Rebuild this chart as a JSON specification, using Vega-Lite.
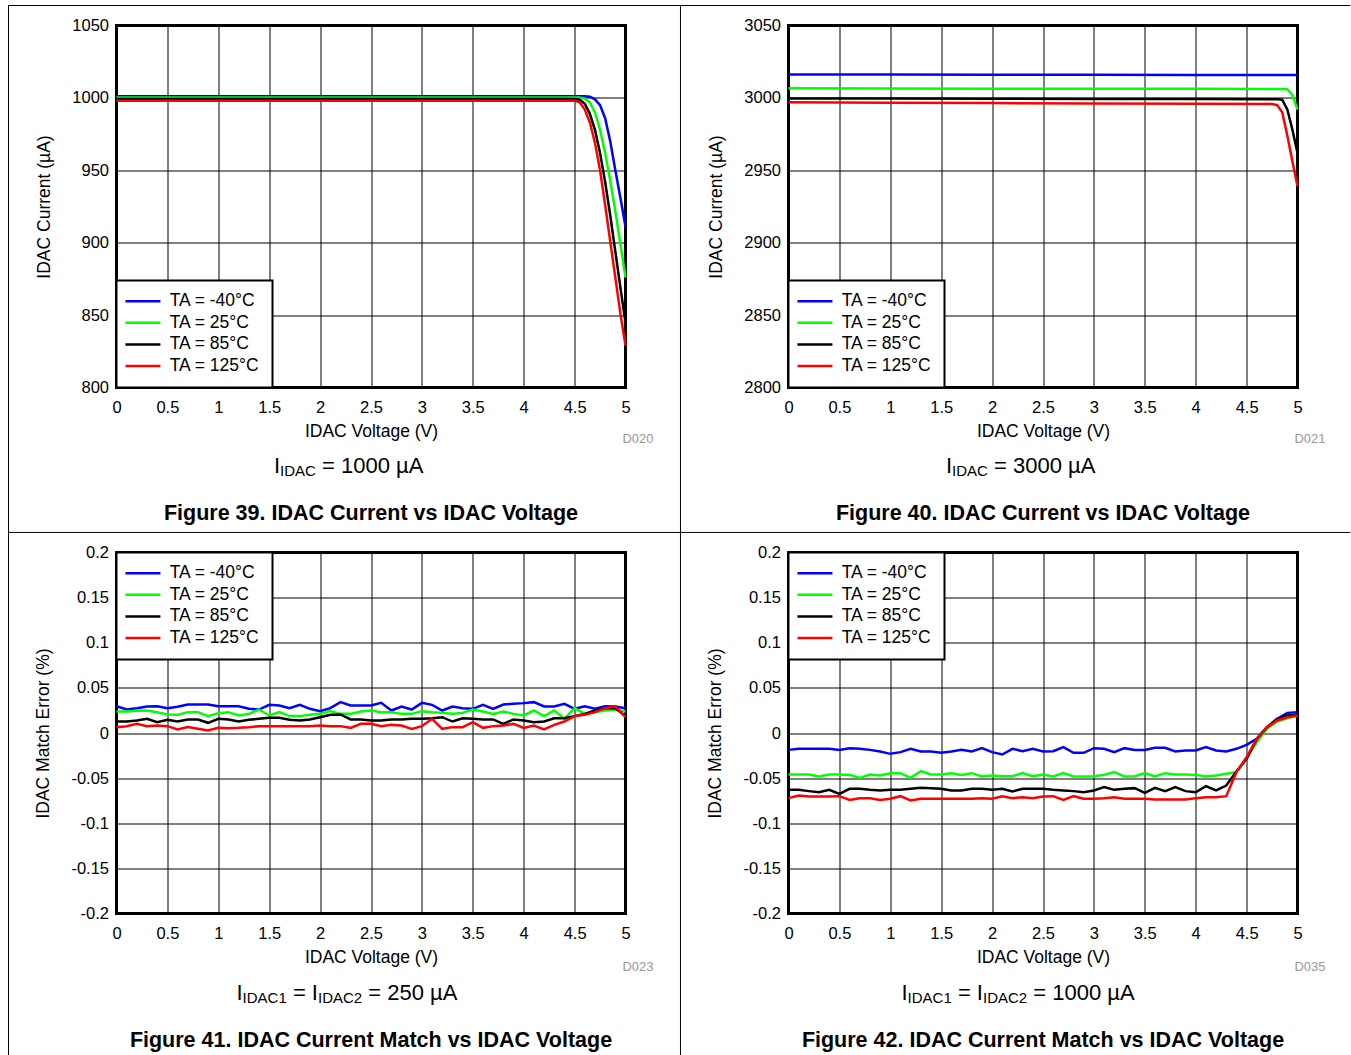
{
"$schema": "https://vega.github.io/schema/vega-lite/v6.json",
"background": "white",
"padding": {"left": 5.5, "top": 3.5, "right": 0, "bottom": 0},
"config": {
 "font": "Liberation Sans",
 "view": {"stroke": "#000", "strokeWidth": 3},
 "axis": {"grid": true, "gridColor": "#000", "gridWidth": 1, "gridOpacity": 1, "domain": false, "ticks": false, "labelOverlap": false, "labelFont": "Liberation Sans", "labelFontSize": 16.5, "labelColor": "#000", "titleFont": "Liberation Sans", "titleFontSize": 17.5, "titleFontWeight": "normal", "titleColor": "#000"},
 "axisX": {"labelPadding": 12, "titlePadding": 6, "labelFlush": false},
 "axisY": {"labelPadding": 8, "titlePadding": 18},
 "legend": {"offset": 0, "fillColor": "#fff", "strokeColor": "#000", "padding": 12, "symbolType": "M-3,0H3", "symbolSize": 136, "symbolOffset": 5.7, "symbolStrokeWidth": 2.5, "labelFontSize": 17.5, "labelFont": "Liberation Sans", "labelColor": "#000", "labelOffset": 18, "rowPadding": 2.6},
 "text": {"font": "Liberation Sans", "color": "#000"}
},
"datasets": {
 "p1": [
  {"v":0,"t":"-40°C","y":1001.2},{"v":1,"t":"-40°C","y":1001.2},{"v":2,"t":"-40°C","y":1001.2},{"v":3,"t":"-40°C","y":1001.2},{"v":4,"t":"-40°C","y":1001.2},{"v":4.5,"t":"-40°C","y":1001.2},{"v":4.6,"t":"-40°C","y":1001.1},{"v":4.65,"t":"-40°C","y":1000.8},{"v":4.7,"t":"-40°C","y":999},{"v":4.75,"t":"-40°C","y":995},{"v":4.8,"t":"-40°C","y":986},{"v":4.85,"t":"-40°C","y":970},{"v":4.9,"t":"-40°C","y":950},{"v":4.95,"t":"-40°C","y":931},{"v":5,"t":"-40°C","y":911},
  {"v":0,"t":"25°C","y":1000.3},{"v":1,"t":"25°C","y":1000.3},{"v":2,"t":"25°C","y":1000.3},{"v":3,"t":"25°C","y":1000.3},{"v":4,"t":"25°C","y":1000.3},{"v":4.5,"t":"25°C","y":1000.3},{"v":4.55,"t":"25°C","y":1000.2},{"v":4.6,"t":"25°C","y":999.5},{"v":4.65,"t":"25°C","y":997},{"v":4.7,"t":"25°C","y":990},{"v":4.75,"t":"25°C","y":978},{"v":4.8,"t":"25°C","y":962},{"v":4.85,"t":"25°C","y":943},{"v":4.9,"t":"25°C","y":922},{"v":4.95,"t":"25°C","y":899},{"v":5,"t":"25°C","y":876},
  {"v":0,"t":"85°C","y":999.3},{"v":1,"t":"85°C","y":999.3},{"v":2,"t":"85°C","y":999.3},{"v":3,"t":"85°C","y":999.3},{"v":4,"t":"85°C","y":999.3},{"v":4.5,"t":"85°C","y":999.3},{"v":4.55,"t":"85°C","y":998.8},{"v":4.6,"t":"85°C","y":996},{"v":4.65,"t":"85°C","y":989},{"v":4.7,"t":"85°C","y":978},{"v":4.75,"t":"85°C","y":962},{"v":4.8,"t":"85°C","y":942},{"v":4.85,"t":"85°C","y":919},{"v":4.9,"t":"85°C","y":894},{"v":4.95,"t":"85°C","y":869},{"v":5,"t":"85°C","y":845},
  {"v":0,"t":"125°C","y":998.1},{"v":1,"t":"125°C","y":998.1},{"v":2,"t":"125°C","y":998.1},{"v":3,"t":"125°C","y":998.1},{"v":4,"t":"125°C","y":998.1},{"v":4.5,"t":"125°C","y":998.1},{"v":4.55,"t":"125°C","y":997},{"v":4.6,"t":"125°C","y":992},{"v":4.65,"t":"125°C","y":983},{"v":4.7,"t":"125°C","y":969},{"v":4.75,"t":"125°C","y":950},{"v":4.8,"t":"125°C","y":926},{"v":4.85,"t":"125°C","y":901},{"v":4.9,"t":"125°C","y":876},{"v":4.95,"t":"125°C","y":851},{"v":5,"t":"125°C","y":829}
 ],
 "p2": [
  {"v":0,"t":"-40°C","y":3016.2},{"v":1,"t":"-40°C","y":3016.1},{"v":2,"t":"-40°C","y":3016},{"v":3,"t":"-40°C","y":3016},{"v":4,"t":"-40°C","y":3015.9},{"v":5,"t":"-40°C","y":3015.9},
  {"v":0,"t":"25°C","y":3006.6},{"v":1,"t":"25°C","y":3006.5},{"v":2,"t":"25°C","y":3006.4},{"v":3,"t":"25°C","y":3006.3},{"v":4,"t":"25°C","y":3006.3},{"v":4.85,"t":"25°C","y":3006.2},{"v":4.9,"t":"25°C","y":3006},{"v":4.95,"t":"25°C","y":3002},{"v":5,"t":"25°C","y":2992},
  {"v":0,"t":"85°C","y":2999.6},{"v":1,"t":"85°C","y":2999.5},{"v":2,"t":"85°C","y":2999.4},{"v":3,"t":"85°C","y":2999.3},{"v":4,"t":"85°C","y":2999.2},{"v":4.8,"t":"85°C","y":2999.1},{"v":4.85,"t":"85°C","y":2998.8},{"v":4.9,"t":"85°C","y":2992},{"v":4.95,"t":"85°C","y":2978},{"v":5,"t":"85°C","y":2962},
  {"v":0,"t":"125°C","y":2997},{"v":1,"t":"125°C","y":2996.7},{"v":2,"t":"125°C","y":2996.4},{"v":3,"t":"125°C","y":2996.2},{"v":4,"t":"125°C","y":2996},{"v":4.75,"t":"125°C","y":2995.8},{"v":4.8,"t":"125°C","y":2995},{"v":4.85,"t":"125°C","y":2990},{"v":4.9,"t":"125°C","y":2974},{"v":4.95,"t":"125°C","y":2956},{"v":5,"t":"125°C","y":2939}
 ],
 "p3": [
  {"v":0,"t":"-40°C","y":0.0297},{"v":0.1,"t":"-40°C","y":0.026},{"v":0.2,"t":"-40°C","y":0.0275},{"v":0.3,"t":"-40°C","y":0.0294},{"v":0.4,"t":"-40°C","y":0.0297},{"v":0.5,"t":"-40°C","y":0.0275},{"v":0.6,"t":"-40°C","y":0.029},{"v":0.7,"t":"-40°C","y":0.0316},{"v":0.8,"t":"-40°C","y":0.0316},{"v":0.9,"t":"-40°C","y":0.0316},{"v":1,"t":"-40°C","y":0.0297},{"v":1.1,"t":"-40°C","y":0.0297},{"v":1.2,"t":"-40°C","y":0.0297},{"v":1.3,"t":"-40°C","y":0.0268},{"v":1.4,"t":"-40°C","y":0.026},{"v":1.5,"t":"-40°C","y":0.0312},{"v":1.6,"t":"-40°C","y":0.0305},{"v":1.7,"t":"-40°C","y":0.0275},{"v":1.8,"t":"-40°C","y":0.0312},{"v":1.9,"t":"-40°C","y":0.0268},{"v":2,"t":"-40°C","y":0.0242},{"v":2.1,"t":"-40°C","y":0.0275},{"v":2.2,"t":"-40°C","y":0.0342},{"v":2.3,"t":"-40°C","y":0.0305},{"v":2.4,"t":"-40°C","y":0.0305},{"v":2.5,"t":"-40°C","y":0.0305},{"v":2.6,"t":"-40°C","y":0.0334},{"v":2.7,"t":"-40°C","y":0.0249},{"v":2.8,"t":"-40°C","y":0.0294},{"v":2.9,"t":"-40°C","y":0.026},{"v":3,"t":"-40°C","y":0.0334},{"v":3.1,"t":"-40°C","y":0.0312},{"v":3.2,"t":"-40°C","y":0.0249},{"v":3.3,"t":"-40°C","y":0.0294},{"v":3.4,"t":"-40°C","y":0.0275},{"v":3.5,"t":"-40°C","y":0.0268},{"v":3.6,"t":"-40°C","y":0.0312},{"v":3.7,"t":"-40°C","y":0.0268},{"v":3.8,"t":"-40°C","y":0.0316},{"v":3.9,"t":"-40°C","y":0.0323},{"v":4,"t":"-40°C","y":0.0331},{"v":4.1,"t":"-40°C","y":0.0342},{"v":4.2,"t":"-40°C","y":0.0294},{"v":4.3,"t":"-40°C","y":0.0294},{"v":4.4,"t":"-40°C","y":0.0323},{"v":4.5,"t":"-40°C","y":0.0268},{"v":4.6,"t":"-40°C","y":0.0297},{"v":4.7,"t":"-40°C","y":0.0268},{"v":4.8,"t":"-40°C","y":0.0297},{"v":4.9,"t":"-40°C","y":0.0294},{"v":5,"t":"-40°C","y":0.0275},
  {"v":0,"t":"25°C","y":0.0238},{"v":0.1,"t":"25°C","y":0.0238},{"v":0.2,"t":"25°C","y":0.0246},{"v":0.3,"t":"25°C","y":0.0249},{"v":0.4,"t":"25°C","y":0.0231},{"v":0.5,"t":"25°C","y":0.0205},{"v":0.6,"t":"25°C","y":0.0201},{"v":0.7,"t":"25°C","y":0.0231},{"v":0.8,"t":"25°C","y":0.0231},{"v":0.9,"t":"25°C","y":0.0187},{"v":1,"t":"25°C","y":0.022},{"v":1.1,"t":"25°C","y":0.0231},{"v":1.2,"t":"25°C","y":0.0194},{"v":1.3,"t":"25°C","y":0.0212},{"v":1.4,"t":"25°C","y":0.026},{"v":1.5,"t":"25°C","y":0.0194},{"v":1.6,"t":"25°C","y":0.0231},{"v":1.7,"t":"25°C","y":0.0187},{"v":1.8,"t":"25°C","y":0.0187},{"v":1.9,"t":"25°C","y":0.0201},{"v":2,"t":"25°C","y":0.0212},{"v":2.1,"t":"25°C","y":0.0242},{"v":2.2,"t":"25°C","y":0.0212},{"v":2.3,"t":"25°C","y":0.0212},{"v":2.4,"t":"25°C","y":0.0238},{"v":2.5,"t":"25°C","y":0.0249},{"v":2.6,"t":"25°C","y":0.0231},{"v":2.7,"t":"25°C","y":0.0231},{"v":2.8,"t":"25°C","y":0.0212},{"v":2.9,"t":"25°C","y":0.0212},{"v":3,"t":"25°C","y":0.0242},{"v":3.1,"t":"25°C","y":0.0231},{"v":3.2,"t":"25°C","y":0.0223},{"v":3.3,"t":"25°C","y":0.0212},{"v":3.4,"t":"25°C","y":0.0223},{"v":3.5,"t":"25°C","y":0.026},{"v":3.6,"t":"25°C","y":0.0238},{"v":3.7,"t":"25°C","y":0.0212},{"v":3.8,"t":"25°C","y":0.0238},{"v":3.9,"t":"25°C","y":0.0212},{"v":4,"t":"25°C","y":0.0194},{"v":4.1,"t":"25°C","y":0.0249},{"v":4.2,"t":"25°C","y":0.0187},{"v":4.3,"t":"25°C","y":0.0249},{"v":4.4,"t":"25°C","y":0.0157},{"v":4.5,"t":"25°C","y":0.0275},{"v":4.6,"t":"25°C","y":0.0212},{"v":4.7,"t":"25°C","y":0.0231},{"v":4.8,"t":"25°C","y":0.0249},{"v":4.9,"t":"25°C","y":0.026},{"v":5,"t":"25°C","y":0.0238},
  {"v":0,"t":"85°C","y":0.0127},{"v":0.1,"t":"85°C","y":0.0127},{"v":0.2,"t":"85°C","y":0.0139},{"v":0.3,"t":"85°C","y":0.0157},{"v":0.4,"t":"85°C","y":0.012},{"v":0.5,"t":"85°C","y":0.0146},{"v":0.6,"t":"85°C","y":0.0127},{"v":0.7,"t":"85°C","y":0.015},{"v":0.8,"t":"85°C","y":0.015},{"v":0.9,"t":"85°C","y":0.0113},{"v":1,"t":"85°C","y":0.0157},{"v":1.1,"t":"85°C","y":0.015},{"v":1.2,"t":"85°C","y":0.0127},{"v":1.3,"t":"85°C","y":0.0146},{"v":1.4,"t":"85°C","y":0.0157},{"v":1.5,"t":"85°C","y":0.0168},{"v":1.6,"t":"85°C","y":0.0168},{"v":1.7,"t":"85°C","y":0.0146},{"v":1.8,"t":"85°C","y":0.0139},{"v":1.9,"t":"85°C","y":0.015},{"v":2,"t":"85°C","y":0.0175},{"v":2.1,"t":"85°C","y":0.0201},{"v":2.2,"t":"85°C","y":0.0205},{"v":2.3,"t":"85°C","y":0.015},{"v":2.4,"t":"85°C","y":0.015},{"v":2.5,"t":"85°C","y":0.0139},{"v":2.6,"t":"85°C","y":0.0139},{"v":2.7,"t":"85°C","y":0.015},{"v":2.8,"t":"85°C","y":0.015},{"v":2.9,"t":"85°C","y":0.0157},{"v":3,"t":"85°C","y":0.0157},{"v":3.1,"t":"85°C","y":0.0164},{"v":3.2,"t":"85°C","y":0.0175},{"v":3.3,"t":"85°C","y":0.0127},{"v":3.4,"t":"85°C","y":0.0164},{"v":3.5,"t":"85°C","y":0.0157},{"v":3.6,"t":"85°C","y":0.015},{"v":3.7,"t":"85°C","y":0.015},{"v":3.8,"t":"85°C","y":0.0102},{"v":3.9,"t":"85°C","y":0.015},{"v":4,"t":"85°C","y":0.0139},{"v":4.1,"t":"85°C","y":0.012},{"v":4.2,"t":"85°C","y":0.0127},{"v":4.3,"t":"85°C","y":0.0164},{"v":4.4,"t":"85°C","y":0.0164},{"v":4.5,"t":"85°C","y":0.0187},{"v":4.6,"t":"85°C","y":0.0212},{"v":4.7,"t":"85°C","y":0.0249},{"v":4.8,"t":"85°C","y":0.0275},{"v":4.9,"t":"85°C","y":0.0275},{"v":5,"t":"85°C","y":0.0187},
  {"v":0,"t":"125°C","y":0.0065},{"v":0.1,"t":"125°C","y":0.0076},{"v":0.2,"t":"125°C","y":0.0102},{"v":0.3,"t":"125°C","y":0.0076},{"v":0.4,"t":"125°C","y":0.0083},{"v":0.5,"t":"125°C","y":0.0076},{"v":0.6,"t":"125°C","y":0.0039},{"v":0.7,"t":"125°C","y":0.0065},{"v":0.8,"t":"125°C","y":0.0046},{"v":0.9,"t":"125°C","y":0.0028},{"v":1,"t":"125°C","y":0.0057},{"v":1.1,"t":"125°C","y":0.0054},{"v":1.2,"t":"125°C","y":0.0057},{"v":1.3,"t":"125°C","y":0.0065},{"v":1.4,"t":"125°C","y":0.0076},{"v":1.5,"t":"125°C","y":0.0076},{"v":1.6,"t":"125°C","y":0.0076},{"v":1.7,"t":"125°C","y":0.0076},{"v":1.8,"t":"125°C","y":0.0076},{"v":1.9,"t":"125°C","y":0.0076},{"v":2,"t":"125°C","y":0.0083},{"v":2.1,"t":"125°C","y":0.0076},{"v":2.2,"t":"125°C","y":0.0076},{"v":2.3,"t":"125°C","y":0.0057},{"v":2.4,"t":"125°C","y":0.0102},{"v":2.5,"t":"125°C","y":0.0102},{"v":2.6,"t":"125°C","y":0.0076},{"v":2.7,"t":"125°C","y":0.009},{"v":2.8,"t":"125°C","y":0.0083},{"v":2.9,"t":"125°C","y":0.0046},{"v":3,"t":"125°C","y":0.0076},{"v":3.1,"t":"125°C","y":0.0157},{"v":3.2,"t":"125°C","y":0.0046},{"v":3.3,"t":"125°C","y":0.0065},{"v":3.4,"t":"125°C","y":0.0065},{"v":3.5,"t":"125°C","y":0.012},{"v":3.6,"t":"125°C","y":0.0057},{"v":3.7,"t":"125°C","y":0.0076},{"v":3.8,"t":"125°C","y":0.0083},{"v":3.9,"t":"125°C","y":0.0102},{"v":4,"t":"125°C","y":0.0057},{"v":4.1,"t":"125°C","y":0.0083},{"v":4.2,"t":"125°C","y":0.0039},{"v":4.3,"t":"125°C","y":0.009},{"v":4.4,"t":"125°C","y":0.0127},{"v":4.5,"t":"125°C","y":0.0187},{"v":4.6,"t":"125°C","y":0.0201},{"v":4.7,"t":"125°C","y":0.0231},{"v":4.8,"t":"125°C","y":0.0275},{"v":4.9,"t":"125°C","y":0.0297},{"v":5,"t":"125°C","y":0.0175}
 ],
 "p4": [
  {"v":0,"t":"-40°C","y":-0.0187},{"v":0.1,"t":"-40°C","y":-0.0175},{"v":0.2,"t":"-40°C","y":-0.0175},{"v":0.3,"t":"-40°C","y":-0.0175},{"v":0.4,"t":"-40°C","y":-0.0175},{"v":0.5,"t":"-40°C","y":-0.0187},{"v":0.6,"t":"-40°C","y":-0.0168},{"v":0.7,"t":"-40°C","y":-0.0175},{"v":0.8,"t":"-40°C","y":-0.0187},{"v":0.9,"t":"-40°C","y":-0.0205},{"v":1,"t":"-40°C","y":-0.0231},{"v":1.1,"t":"-40°C","y":-0.0212},{"v":1.2,"t":"-40°C","y":-0.0175},{"v":1.3,"t":"-40°C","y":-0.0205},{"v":1.4,"t":"-40°C","y":-0.0205},{"v":1.5,"t":"-40°C","y":-0.022},{"v":1.6,"t":"-40°C","y":-0.0205},{"v":1.7,"t":"-40°C","y":-0.0187},{"v":1.8,"t":"-40°C","y":-0.0205},{"v":1.9,"t":"-40°C","y":-0.0168},{"v":2,"t":"-40°C","y":-0.0212},{"v":2.1,"t":"-40°C","y":-0.0238},{"v":2.2,"t":"-40°C","y":-0.0175},{"v":2.3,"t":"-40°C","y":-0.0201},{"v":2.4,"t":"-40°C","y":-0.0175},{"v":2.5,"t":"-40°C","y":-0.0205},{"v":2.6,"t":"-40°C","y":-0.0201},{"v":2.7,"t":"-40°C","y":-0.0157},{"v":2.8,"t":"-40°C","y":-0.022},{"v":2.9,"t":"-40°C","y":-0.022},{"v":3,"t":"-40°C","y":-0.0168},{"v":3.1,"t":"-40°C","y":-0.0175},{"v":3.2,"t":"-40°C","y":-0.0212},{"v":3.3,"t":"-40°C","y":-0.0168},{"v":3.4,"t":"-40°C","y":-0.0187},{"v":3.5,"t":"-40°C","y":-0.0187},{"v":3.6,"t":"-40°C","y":-0.0164},{"v":3.7,"t":"-40°C","y":-0.0164},{"v":3.8,"t":"-40°C","y":-0.0205},{"v":3.9,"t":"-40°C","y":-0.0194},{"v":4,"t":"-40°C","y":-0.0194},{"v":4.1,"t":"-40°C","y":-0.0157},{"v":4.2,"t":"-40°C","y":-0.0194},{"v":4.3,"t":"-40°C","y":-0.0205},{"v":4.4,"t":"-40°C","y":-0.0175},{"v":4.5,"t":"-40°C","y":-0.0131},{"v":4.6,"t":"-40°C","y":-0.0065},{"v":4.7,"t":"-40°C","y":0.0065},{"v":4.8,"t":"-40°C","y":0.0157},{"v":4.9,"t":"-40°C","y":0.0223},{"v":5,"t":"-40°C","y":0.0231},
  {"v":0,"t":"25°C","y":-0.046},{"v":0.1,"t":"25°C","y":-0.046},{"v":0.2,"t":"25°C","y":-0.046},{"v":0.3,"t":"25°C","y":-0.0482},{"v":0.4,"t":"25°C","y":-0.046},{"v":0.5,"t":"25°C","y":-0.046},{"v":0.6,"t":"25°C","y":-0.0464},{"v":0.7,"t":"25°C","y":-0.0497},{"v":0.8,"t":"25°C","y":-0.046},{"v":0.9,"t":"25°C","y":-0.0471},{"v":1,"t":"25°C","y":-0.0445},{"v":1.1,"t":"25°C","y":-0.0445},{"v":1.2,"t":"25°C","y":-0.0497},{"v":1.3,"t":"25°C","y":-0.0423},{"v":1.4,"t":"25°C","y":-0.046},{"v":1.5,"t":"25°C","y":-0.046},{"v":1.6,"t":"25°C","y":-0.0445},{"v":1.7,"t":"25°C","y":-0.0464},{"v":1.8,"t":"25°C","y":-0.0445},{"v":1.9,"t":"25°C","y":-0.0482},{"v":2,"t":"25°C","y":-0.0471},{"v":2.1,"t":"25°C","y":-0.0478},{"v":2.2,"t":"25°C","y":-0.0478},{"v":2.3,"t":"25°C","y":-0.0445},{"v":2.4,"t":"25°C","y":-0.0478},{"v":2.5,"t":"25°C","y":-0.046},{"v":2.6,"t":"25°C","y":-0.0482},{"v":2.7,"t":"25°C","y":-0.0445},{"v":2.8,"t":"25°C","y":-0.0482},{"v":2.9,"t":"25°C","y":-0.0482},{"v":3,"t":"25°C","y":-0.0478},{"v":3.1,"t":"25°C","y":-0.0464},{"v":3.2,"t":"25°C","y":-0.0434},{"v":3.3,"t":"25°C","y":-0.0482},{"v":3.4,"t":"25°C","y":-0.0482},{"v":3.5,"t":"25°C","y":-0.0445},{"v":3.6,"t":"25°C","y":-0.0482},{"v":3.7,"t":"25°C","y":-0.0445},{"v":3.8,"t":"25°C","y":-0.046},{"v":3.9,"t":"25°C","y":-0.046},{"v":4,"t":"25°C","y":-0.0464},{"v":4.1,"t":"25°C","y":-0.0482},{"v":4.2,"t":"25°C","y":-0.0471},{"v":4.3,"t":"25°C","y":-0.0452},{"v":4.4,"t":"25°C","y":-0.0434},{"v":4.5,"t":"25°C","y":-0.0279},{"v":4.6,"t":"25°C","y":-0.0102},{"v":4.7,"t":"25°C","y":0.0046},{"v":4.8,"t":"25°C","y":0.0127},{"v":4.9,"t":"25°C","y":0.0164},{"v":5,"t":"25°C","y":0.0194},
  {"v":0,"t":"85°C","y":-0.063},{"v":0.1,"t":"85°C","y":-0.063},{"v":0.2,"t":"85°C","y":-0.0644},{"v":0.3,"t":"85°C","y":-0.0656},{"v":0.4,"t":"85°C","y":-0.063},{"v":0.5,"t":"85°C","y":-0.0674},{"v":0.6,"t":"85°C","y":-0.0619},{"v":0.7,"t":"85°C","y":-0.0619},{"v":0.8,"t":"85°C","y":-0.063},{"v":0.9,"t":"85°C","y":-0.0637},{"v":1,"t":"85°C","y":-0.063},{"v":1.1,"t":"85°C","y":-0.063},{"v":1.2,"t":"85°C","y":-0.0619},{"v":1.3,"t":"85°C","y":-0.0607},{"v":1.4,"t":"85°C","y":-0.0611},{"v":1.5,"t":"85°C","y":-0.0619},{"v":1.6,"t":"85°C","y":-0.0637},{"v":1.7,"t":"85°C","y":-0.0637},{"v":1.8,"t":"85°C","y":-0.0619},{"v":1.9,"t":"85°C","y":-0.0619},{"v":2,"t":"85°C","y":-0.063},{"v":2.1,"t":"85°C","y":-0.0619},{"v":2.2,"t":"85°C","y":-0.0648},{"v":2.3,"t":"85°C","y":-0.0619},{"v":2.4,"t":"85°C","y":-0.0619},{"v":2.5,"t":"85°C","y":-0.0619},{"v":2.6,"t":"85°C","y":-0.063},{"v":2.7,"t":"85°C","y":-0.0637},{"v":2.8,"t":"85°C","y":-0.0644},{"v":2.9,"t":"85°C","y":-0.0656},{"v":3,"t":"85°C","y":-0.0637},{"v":3.1,"t":"85°C","y":-0.06},{"v":3.2,"t":"85°C","y":-0.063},{"v":3.3,"t":"85°C","y":-0.0619},{"v":3.4,"t":"85°C","y":-0.0611},{"v":3.5,"t":"85°C","y":-0.0663},{"v":3.6,"t":"85°C","y":-0.0607},{"v":3.7,"t":"85°C","y":-0.0644},{"v":3.8,"t":"85°C","y":-0.06},{"v":3.9,"t":"85°C","y":-0.0644},{"v":4,"t":"85°C","y":-0.0656},{"v":4.1,"t":"85°C","y":-0.0589},{"v":4.2,"t":"85°C","y":-0.0637},{"v":4.3,"t":"85°C","y":-0.0582},{"v":4.4,"t":"85°C","y":-0.0427},{"v":4.5,"t":"85°C","y":-0.0286},{"v":4.6,"t":"85°C","y":-0.0065},{"v":4.7,"t":"85°C","y":0.0065},{"v":4.8,"t":"85°C","y":0.015},{"v":4.9,"t":"85°C","y":0.0194},{"v":5,"t":"85°C","y":0.0201},
  {"v":0,"t":"125°C","y":-0.0722},{"v":0.1,"t":"125°C","y":-0.0693},{"v":0.2,"t":"125°C","y":-0.0704},{"v":0.3,"t":"125°C","y":-0.0704},{"v":0.4,"t":"125°C","y":-0.0704},{"v":0.5,"t":"125°C","y":-0.07},{"v":0.6,"t":"125°C","y":-0.0741},{"v":0.7,"t":"125°C","y":-0.0722},{"v":0.8,"t":"125°C","y":-0.0722},{"v":0.9,"t":"125°C","y":-0.0741},{"v":1,"t":"125°C","y":-0.0729},{"v":1.1,"t":"125°C","y":-0.07},{"v":1.2,"t":"125°C","y":-0.0748},{"v":1.3,"t":"125°C","y":-0.0729},{"v":1.4,"t":"125°C","y":-0.0729},{"v":1.5,"t":"125°C","y":-0.0729},{"v":1.6,"t":"125°C","y":-0.0729},{"v":1.7,"t":"125°C","y":-0.0729},{"v":1.8,"t":"125°C","y":-0.0729},{"v":1.9,"t":"125°C","y":-0.0722},{"v":2,"t":"125°C","y":-0.0729},{"v":2.1,"t":"125°C","y":-0.07},{"v":2.2,"t":"125°C","y":-0.0722},{"v":2.3,"t":"125°C","y":-0.0711},{"v":2.4,"t":"125°C","y":-0.0722},{"v":2.5,"t":"125°C","y":-0.0704},{"v":2.6,"t":"125°C","y":-0.07},{"v":2.7,"t":"125°C","y":-0.0741},{"v":2.8,"t":"125°C","y":-0.07},{"v":2.9,"t":"125°C","y":-0.0729},{"v":3,"t":"125°C","y":-0.0729},{"v":3.1,"t":"125°C","y":-0.0722},{"v":3.2,"t":"125°C","y":-0.0711},{"v":3.3,"t":"125°C","y":-0.0729},{"v":3.4,"t":"125°C","y":-0.0729},{"v":3.5,"t":"125°C","y":-0.0729},{"v":3.6,"t":"125°C","y":-0.0737},{"v":3.7,"t":"125°C","y":-0.0737},{"v":3.8,"t":"125°C","y":-0.0737},{"v":3.9,"t":"125°C","y":-0.0737},{"v":4,"t":"125°C","y":-0.0722},{"v":4.1,"t":"125°C","y":-0.0711},{"v":4.2,"t":"125°C","y":-0.0711},{"v":4.3,"t":"125°C","y":-0.07},{"v":4.4,"t":"125°C","y":-0.0434},{"v":4.5,"t":"125°C","y":-0.0268},{"v":4.6,"t":"125°C","y":-0.0065},{"v":4.7,"t":"125°C","y":0.0065},{"v":4.8,"t":"125°C","y":0.0139},{"v":4.9,"t":"125°C","y":0.0175},{"v":5,"t":"125°C","y":0.0194}
 ]
},
"columns": 2,
"spacing": {"row": 165, "column": 163},
"bounds": "flush",
"resolve": {"scale": {"color": "independent"}, "legend": {"color": "independent"}},
"concat": [
  {"width": 509, "height": 362, "data": {"name": "p1"},
   "layer": [
    {"mark": {"type": "line", "strokeWidth": 2.5},
     "encoding": {
      "x": {"field": "v", "type": "quantitative", "scale": {"domain": [0, 5], "nice": false, "zero": false}, "axis": {"title": "IDAC Voltage (V)", "values": [0,0.5,1,1.5,2,2.5,3,3.5,4,4.5,5], "format": "~g"}},
      "y": {"field": "y", "type": "quantitative", "scale": {"domain": [800, 1050], "nice": false, "zero": false}, "axis": {"title": "IDAC Current (µA)", "values": [800,850,900,950,1000,1050], "format": "d"}},
      "color": {"field": "t", "type": "nominal", "scale": {"domain": ["-40°C","25°C","85°C","125°C"], "range": ["#0000ff","#00ff00","#000000","#ff0000"]}, "legend": {"title": null, "orient": "bottom-left", "labelExpr": "'TA = ' + datum.label", "encode": {"legend": {"update": {"strokeWidth": {"value": 2}}}}}}
     }},
    {"data": {"values": [{}]}, "mark": {"type": "rule", "color": "#000", "strokeWidth": 1}, "encoding": {"x": {"datum": -1.061}, "x2": {"datum": 12.12}, "y": {"datum": 1063.8}}},
    {"data": {"values": [{}]}, "mark": {"type": "rule", "color": "#000", "strokeWidth": 1}, "encoding": {"x": {"datum": -1.061}, "x2": {"datum": 12.12}, "y": {"datum": 699.9}}},
    {"data": {"values": [{}]}, "mark": {"type": "rule", "color": "#000", "strokeWidth": 1}, "encoding": {"x": {"datum": -1.061}, "y": {"datum": 1063.8}, "y2": {"datum": 339}}},
    {"data": {"values": [{}]}, "mark": {"type": "rule", "color": "#000", "strokeWidth": 1}, "encoding": {"x": {"datum": 5.54}, "y": {"datum": 1063.8}, "y2": {"datum": 339}}},
    {"data": {"values": [{}]}, "mark": {"type": "text", "text": "D020", "align": "right", "baseline": "middle", "dx": 28, "dy": 51, "fontSize": 13, "color": "#999999"}, "encoding": {"x": {"datum": 5}, "y": {"datum": 800}}},
    {"data": {"values": [{}]}, "mark": {"type": "text", "text": "I", "align": "left", "dx": -97, "dy": 78, "fontSize": 22}, "encoding": {"x": {"datum": 2.5}, "y": {"datum": 800}}},
    {"data": {"values": [{}]}, "mark": {"type": "text", "text": "IDAC", "align": "left", "dx": -90.9, "dy": 83, "fontSize": 15}, "encoding": {"x": {"datum": 2.5}, "y": {"datum": 800}}},
    {"data": {"values": [{}]}, "mark": {"type": "text", "text": "= 1000 µA", "align": "left", "dx": -49, "dy": 78, "fontSize": 22}, "encoding": {"x": {"datum": 2.5}, "y": {"datum": 800}}},
    {"data": {"values": [{}]}, "mark": {"type": "text", "text": "Figure 39. IDAC Current vs IDAC Voltage", "align": "center", "baseline": "middle", "dy": 126, "fontSize": 21.5, "fontWeight": "bold"}, "encoding": {"x": {"datum": 2.5}, "y": {"datum": 800}}}
   ]},
  {"width": 509, "height": 362, "data": {"name": "p2"},
   "layer": [
    {"mark": {"type": "line", "strokeWidth": 2.5},
     "encoding": {
      "x": {"field": "v", "type": "quantitative", "scale": {"domain": [0, 5], "nice": false, "zero": false}, "axis": {"title": "IDAC Voltage (V)", "values": [0,0.5,1,1.5,2,2.5,3,3.5,4,4.5,5], "format": "~g"}},
      "y": {"field": "y", "type": "quantitative", "scale": {"domain": [2800, 3050], "nice": false, "zero": false}, "axis": {"title": "IDAC Current (µA)", "values": [2800,2850,2900,2950,3000,3050], "format": "d"}},
      "color": {"field": "t", "type": "nominal", "scale": {"domain": ["-40°C","25°C","85°C","125°C"], "range": ["#0000ff","#00ff00","#000000","#ff0000"]}, "legend": {"title": null, "orient": "bottom-left", "labelExpr": "'TA = ' + datum.label", "encode": {"legend": {"update": {"strokeWidth": {"value": 2}}}}}}
     }},
    {"data": {"values": [{}]}, "mark": {"type": "text", "text": "D021", "align": "right", "baseline": "middle", "dx": 28, "dy": 51, "fontSize": 13, "color": "#999999"}, "encoding": {"x": {"datum": 5}, "y": {"datum": 2800}}},
    {"data": {"values": [{}]}, "mark": {"type": "text", "text": "I", "align": "left", "dx": -97, "dy": 78, "fontSize": 22}, "encoding": {"x": {"datum": 2.5}, "y": {"datum": 2800}}},
    {"data": {"values": [{}]}, "mark": {"type": "text", "text": "IDAC", "align": "left", "dx": -90.9, "dy": 83, "fontSize": 15}, "encoding": {"x": {"datum": 2.5}, "y": {"datum": 2800}}},
    {"data": {"values": [{}]}, "mark": {"type": "text", "text": "= 3000 µA", "align": "left", "dx": -49, "dy": 78, "fontSize": 22}, "encoding": {"x": {"datum": 2.5}, "y": {"datum": 2800}}},
    {"data": {"values": [{}]}, "mark": {"type": "text", "text": "Figure 40. IDAC Current vs IDAC Voltage", "align": "center", "baseline": "middle", "dy": 126, "fontSize": 21.5, "fontWeight": "bold"}, "encoding": {"x": {"datum": 2.5}, "y": {"datum": 2800}}}
   ]},
  {"width": 509, "height": 361, "data": {"name": "p3"},
   "layer": [
    {"mark": {"type": "line", "strokeWidth": 2.5},
     "encoding": {
      "x": {"field": "v", "type": "quantitative", "scale": {"domain": [0, 5], "nice": false, "zero": false}, "axis": {"title": "IDAC Voltage (V)", "values": [0,0.5,1,1.5,2,2.5,3,3.5,4,4.5,5], "format": "~g"}},
      "y": {"field": "y", "type": "quantitative", "scale": {"domain": [-0.2, 0.2], "nice": false, "zero": false}, "axis": {"title": "IDAC Match Error (%)", "values": [-0.2,-0.15,-0.1,-0.05,0,0.05,0.1,0.15,0.2], "labelExpr": "datum.value < 0 ? '-' + format(-datum.value, '~g') : format(datum.value, '~g')"}},
      "color": {"field": "t", "type": "nominal", "scale": {"domain": ["-40°C","25°C","85°C","125°C"], "range": ["#0000ff","#00ff00","#000000","#ff0000"]}, "legend": {"title": null, "orient": "top-left", "labelExpr": "'TA = ' + datum.label", "encode": {"legend": {"update": {"strokeWidth": {"value": 2}}}}}}
     }},
    {"data": {"values": [{}]}, "mark": {"type": "text", "text": "D023", "align": "right", "baseline": "middle", "dx": 28, "dy": 53, "fontSize": 13, "color": "#999999"}, "encoding": {"x": {"datum": 5}, "y": {"datum": -0.2}}},
    {"data": {"values": [{}]}, "mark": {"type": "text", "text": "I", "align": "left", "dx": -134.5, "dy": 79, "fontSize": 22}, "encoding": {"x": {"datum": 2.5}, "y": {"datum": -0.2}}},
    {"data": {"values": [{}]}, "mark": {"type": "text", "text": "IDAC1", "align": "left", "dx": -128.4, "dy": 84, "fontSize": 15}, "encoding": {"x": {"datum": 2.5}, "y": {"datum": -0.2}}},
    {"data": {"values": [{}]}, "mark": {"type": "text", "text": "= I", "align": "left", "dx": -78.1, "dy": 79, "fontSize": 22}, "encoding": {"x": {"datum": 2.5}, "y": {"datum": -0.2}}},
    {"data": {"values": [{}]}, "mark": {"type": "text", "text": "IDAC2", "align": "left", "dx": -53, "dy": 84, "fontSize": 15}, "encoding": {"x": {"datum": 2.5}, "y": {"datum": -0.2}}},
    {"data": {"values": [{}]}, "mark": {"type": "text", "text": "= 250 µA", "align": "left", "dx": -2.7, "dy": 79, "fontSize": 22}, "encoding": {"x": {"datum": 2.5}, "y": {"datum": -0.2}}},
    {"data": {"values": [{}]}, "mark": {"type": "text", "text": "Figure 41. IDAC Current Match vs IDAC Voltage", "align": "center", "baseline": "middle", "dy": 127, "fontSize": 21.5, "fontWeight": "bold"}, "encoding": {"x": {"datum": 2.5}, "y": {"datum": -0.2}}}
   ]},
  {"width": 509, "height": 361, "data": {"name": "p4"},
   "layer": [
    {"mark": {"type": "line", "strokeWidth": 2.5},
     "encoding": {
      "x": {"field": "v", "type": "quantitative", "scale": {"domain": [0, 5], "nice": false, "zero": false}, "axis": {"title": "IDAC Voltage (V)", "values": [0,0.5,1,1.5,2,2.5,3,3.5,4,4.5,5], "format": "~g"}},
      "y": {"field": "y", "type": "quantitative", "scale": {"domain": [-0.2, 0.2], "nice": false, "zero": false}, "axis": {"title": "IDAC Match Error (%)", "values": [-0.2,-0.15,-0.1,-0.05,0,0.05,0.1,0.15,0.2], "labelExpr": "datum.value < 0 ? '-' + format(-datum.value, '~g') : format(datum.value, '~g')"}},
      "color": {"field": "t", "type": "nominal", "scale": {"domain": ["-40°C","25°C","85°C","125°C"], "range": ["#0000ff","#00ff00","#000000","#ff0000"]}, "legend": {"title": null, "orient": "top-left", "labelExpr": "'TA = ' + datum.label", "encode": {"legend": {"update": {"strokeWidth": {"value": 2}}}}}}
     }},
    {"data": {"values": [{}]}, "mark": {"type": "text", "text": "D035", "align": "right", "baseline": "middle", "dx": 28, "dy": 53, "fontSize": 13, "color": "#999999"}, "encoding": {"x": {"datum": 5}, "y": {"datum": -0.2}}},
    {"data": {"values": [{}]}, "mark": {"type": "text", "text": "I", "align": "left", "dx": -141.5, "dy": 79, "fontSize": 22}, "encoding": {"x": {"datum": 2.5}, "y": {"datum": -0.2}}},
    {"data": {"values": [{}]}, "mark": {"type": "text", "text": "IDAC1", "align": "left", "dx": -135.4, "dy": 84, "fontSize": 15}, "encoding": {"x": {"datum": 2.5}, "y": {"datum": -0.2}}},
    {"data": {"values": [{}]}, "mark": {"type": "text", "text": "= I", "align": "left", "dx": -85.1, "dy": 79, "fontSize": 22}, "encoding": {"x": {"datum": 2.5}, "y": {"datum": -0.2}}},
    {"data": {"values": [{}]}, "mark": {"type": "text", "text": "IDAC2", "align": "left", "dx": -60, "dy": 84, "fontSize": 15}, "encoding": {"x": {"datum": 2.5}, "y": {"datum": -0.2}}},
    {"data": {"values": [{}]}, "mark": {"type": "text", "text": "= 1000 µA", "align": "left", "dx": -9.7, "dy": 79, "fontSize": 22}, "encoding": {"x": {"datum": 2.5}, "y": {"datum": -0.2}}},
    {"data": {"values": [{}]}, "mark": {"type": "text", "text": "Figure 42. IDAC Current Match vs IDAC Voltage", "align": "center", "baseline": "middle", "dy": 127, "fontSize": 21.5, "fontWeight": "bold"}, "encoding": {"x": {"datum": 2.5}, "y": {"datum": -0.2}}}
   ]}
]
}
